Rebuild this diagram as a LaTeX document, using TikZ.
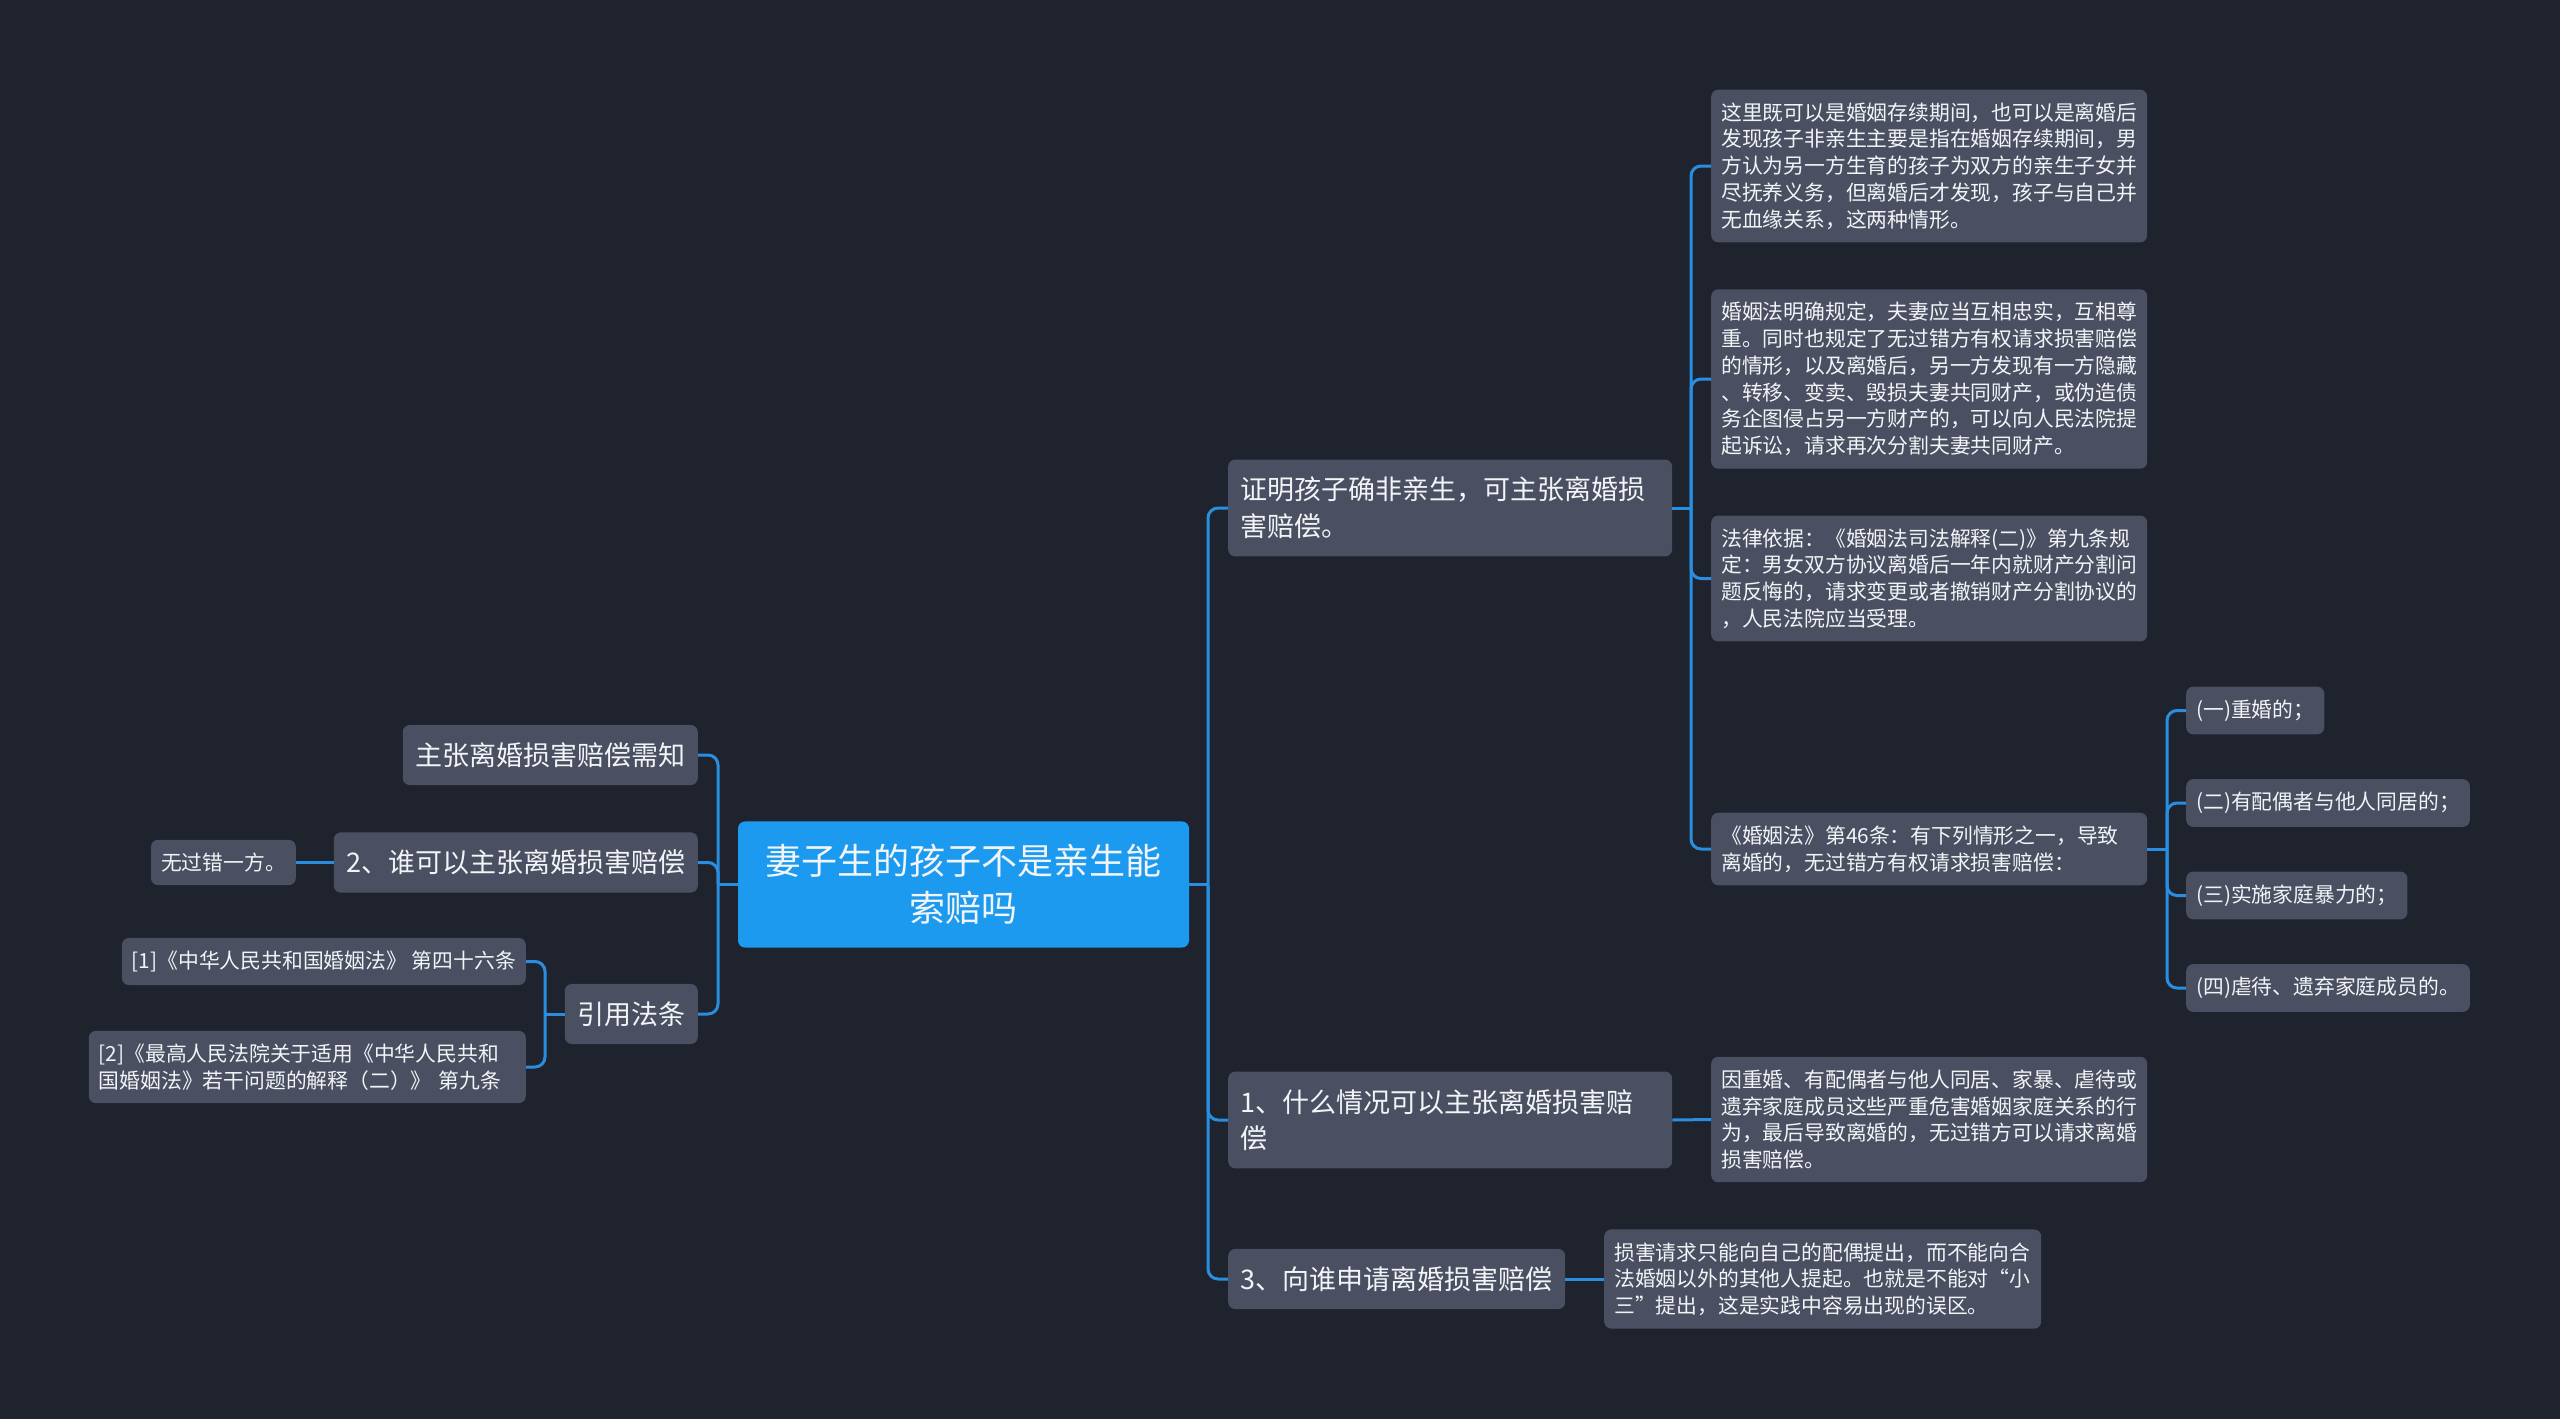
\documentclass[tikz,border=0pt]{standalone}
\usepackage{fontspec}
\setmainfont{Noto Sans CJK SC}
\usepackage{tikz}
\usetikzlibrary{positioning}
\definecolor{bgcol}{HTML}{1F232E}
\definecolor{boxcol}{HTML}{4A5061}
\definecolor{rootcol}{HTML}{1B9AEF}
\definecolor{linkcol}{HTML}{2A8EE0}
\definecolor{txtcol}{HTML}{F2F4F7}

\begin{document}
\begin{tikzpicture}[x=1pt, y=-1pt,
  box/.style={rectangle, rounded corners=7pt, fill=boxcol, text=txtcol, align=left},
  root/.style={box, fill=rootcol, align=center, text width=400pt, inner xsep=25.5pt, inner ysep=23pt, font=\fontsize{36}{46.7}\selectfont},
  topic/.style={box, inner xsep=12.5pt, inner ysep=17.5pt, font=\fontsize{27}{36.7}\selectfont},
  leaf/.style={box, inner xsep=10pt, inner ysep=13pt, font=\fontsize{20.8}{26.7}\selectfont},
  link/.style={draw=linkcol, line width=3pt, rounded corners=10pt}]

\fill[bgcol] (0,0) rectangle (2560,1419);
\useasboundingbox (0,0) rectangle (2560,1419);

% Root

\node [root] (root) at (963.5,884.5) {妻子生的孩子不是亲生能\\索赔吗};

% Right branch

\node [topic, text width=419pt, anchor=west] (proof) at (1228,508)
{证明孩子确非亲生，可主张离婚损\\害赔偿。};
\node [topic, text width=419pt, anchor=west] (when) at (1228,1120)
{1、什么情况可以主张离婚损害赔\\偿};
\node [topic, anchor=west] (whom) at (1228,1279) {3、向谁申请离婚损害赔偿};

\node [leaf, text width=416pt, anchor=west] (period) at (1711,166)
{这里既可以是婚姻存续期间，也可以是离婚后\\发现孩子非亲生主要是指在婚姻存续期间，男\\方认为另一方生育的孩子为双方的亲生子女并\\尽抚养义务，但离婚后才发现，孩子与自己并\\无血缘关系，这两种情形。};
\node [leaf, text width=416pt, below=213pt of period.west, anchor=west] (loyal)
{婚姻法明确规定，夫妻应当互相忠实，互相尊\\重。同时也规定了无过错方有权请求损害赔偿\\的情形，以及离婚后，另一方发现有一方隐藏\\、转移、变卖、毁损夫妻共同财产，或伪造债\\务企图侵占另一方财产的，可以向人民法院提\\起诉讼，请求再次分割夫妻共同财产。};
\node [leaf, text width=416pt, below=199.5pt of loyal.west, anchor=west] (basis)
{法律依据：《婚姻法司法解释(二)》第九条规\\定：男女双方协议离婚后一年内就财产分割问\\题反悔的，请求变更或者撤销财产分割协议的\\，人民法院应当受理。};
\node [leaf, text width=416pt, below=270.5pt of basis.west, anchor=west] (art46)
{《婚姻法》第46条：有下列情形之一，导致\\离婚的，无过错方有权请求损害赔偿：};

\node [leaf, anchor=west] (case1) at (2186,710.5) {(一)重婚的；};
\node [leaf, below=92.5pt of case1.west, anchor=west] (case2) {(二)有配偶者与他人同居的；};
\node [leaf, below=92.5pt of case2.west, anchor=west] (case3) {(三)实施家庭暴力的；};
\node [leaf, below=92.5pt of case3.west, anchor=west] (case4) {(四)虐待、遗弃家庭成员的。};

\node [leaf, text width=416pt, anchor=west] (cause) at (1711,1119.5)
{因重婚、有配偶者与他人同居、家暴、虐待或\\遗弃家庭成员这些严重危害婚姻家庭关系的行\\为，最后导致离婚的，无过错方可以请求离婚\\损害赔偿。};
\node [leaf, text width=417pt, anchor=west] (spouse) at (1604,1279)
{损害请求只能向自己的配偶提出，而不能向合\\法婚姻以外的其他人提起。也就是不能对“小\\三”提出，这是实践中容易出现的误区。};

% Left branch

\node [topic, anchor=east] (notice) at (698,755) {主张离婚损害赔偿需知};
\node [topic, anchor=east] (who) at (698,862.5) {2、谁可以主张离婚损害赔偿};
\node [topic, anchor=east] (laws) at (698,1014) {引用法条};

\node [leaf, anchor=east] (party) at (296,862.5) {无过错一方。};
\node [leaf, anchor=east] (cite1) at (526,961.5) {[1]《中华人民共和国婚姻法》 第四十六条};
\node [leaf, text width=417pt, below=105.5pt of cite1.east, anchor=east] (cite2)
{[2]《最高人民法院关于适用《中华人民共和\\国婚姻法》若干问题的解释（二）》 第九条};

% Connectors

\coordinate (rtrunk) at (1208,884.5);
\coordinate (ltrunk) at (718,884.5);
\coordinate (ptrunk) at (1691,508);
\coordinate (ctrunk) at (2167,849);
\coordinate (ltrunk2) at (545,1014);

\draw[link] (root.east) -- (rtrunk);
\draw[link] (rtrunk) |- (proof.west);
\draw[link] (rtrunk) |- (when.west);
\draw[link] (rtrunk) |- (whom.west);

\draw[link] (proof.east) -- (ptrunk);
\draw[link] (ptrunk) |- (period.west);
\draw[link] (ptrunk) |- (loyal.west);
\draw[link] (ptrunk) |- (basis.west);
\draw[link] (ptrunk) |- (art46.west);

\draw[link] (art46.east) -- (ctrunk);
\draw[link] (ctrunk) |- (case1.west);
\draw[link] (ctrunk) |- (case2.west);
\draw[link] (ctrunk) |- (case3.west);
\draw[link] (ctrunk) |- (case4.west);

\draw[link] (when.east) -- (cause.west);
\draw[link] (whom.east) -- (spouse.west);

\draw[link] (root.west) -- (ltrunk);
\draw[link] (ltrunk) |- (notice.east);
\draw[link] (ltrunk) |- (who.east);
\draw[link] (ltrunk) |- (laws.east);
\draw[link] (who.west) -- (party.east);

\draw[link] (laws.west) -- (ltrunk2);
\draw[link] (ltrunk2) |- (cite1.east);
\draw[link] (ltrunk2) |- (cite2.east);

\end{tikzpicture}
\end{document}
